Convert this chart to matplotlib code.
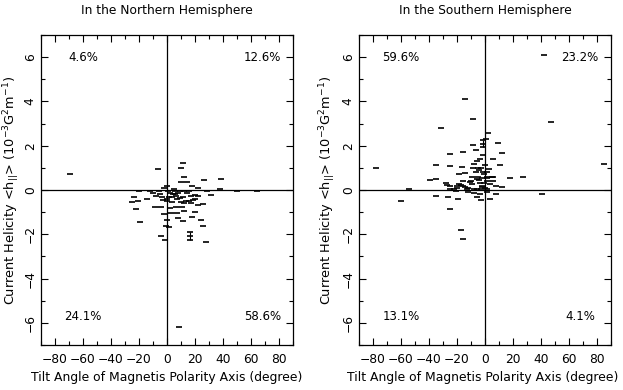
import matplotlib
matplotlib.use("Agg")
import matplotlib.pyplot as plt
from matplotlib.ticker import MultipleLocator

# ---- data (tilt angle in degree, current helicity in 1e-3 G^2 m^-1) ----
north_tilt = [-69, -6.2, -2.2, -0.2,
              11.3, 9.8, 9.8, 14.2, 26.6, 38.8, 17.7, 22, 37.6, 5, 12,
              -20, -12.2, -6, -5, -7.9, -3.8, -0.2, -23.7, -2.6, -25, -20.9,
              -22.3, -8.6, -4.5, -19.4, -4.1, -1.4, -0.5, -10, -14, -2,
              1, 5.8, 9.4, 12.2, 16, 28.5, 50, 64, 2.2, 5.8, 8.1, 31.4, 3.6,
              6.5, 11.7, 17, 19.9, 22.3, 0.2, 3.6, 7.4, 13.7, 15.6, 18.5, 20.1,
              12.2, 17, 21.8, 25.7, 6.7, 10.6, 12.2, 20.1, 2.9, 7, 7.9, 18,
              0.2, 11.3, 24.5, 1.2, 25.7, 27.6, 8.6, 4, 9, 14, 2, 1.5, 10]
north_hel = [0.71, 0.95, 0.09, 0.2,
             1.23, 1.0, 0.37, 0.35, 0.44, 0.5, 0.17, 0.1, 0.03, 0.05, 0.6,
             -0.06, -0.06, -0.06, -0.18, -0.27, -0.33, -0.39, -0.3, -0.45, -0.54,
             -0.51, -0.86, -0.78, -0.75, -1.43, -2.1, -2.28, -1.62, -0.15, -0.4,
             -1.1,
             -0.06, -0.06, -0.06, -0.06, -0.06, -0.06, -0.05, -0.05, -0.12,
             -0.18, -0.12, -0.21, -0.3, -0.27, -0.33, -0.27, -0.24, -0.27,
             -0.48, -0.54, -0.42, -0.51, -0.48, -0.45, -0.39, -0.57, -0.57,
             -0.69, -0.63, -0.75, -0.78, -0.96, -0.99, -1.02, -1.02, -1.25,
             -1.22, -1.35, -1.38, -1.37, -1.67, -1.64, -2.34, -6.17, -0.2,
             -0.35, -0.15, -0.8, -0.3, -0.55]
north_err_tilt = [16.3]
north_err_hel = [-2.09]
north_err_size = [0.17]

south_tilt = [-14.4, -8.3, -31.7, -8.3, -6.7, -15.5, -25, -3.6, -34.7, -25,
              -16.3, -7.9, -0.2, -77.9, -8.3, -5, -18.4, -14.6, -1.4, -39.5,
              -35.2, -5, -27.6, -24.7, -54.5,
              -24.7, -21.9, -19.9, -17.5, -15.5, -14.6, -7.9, -5.5, -3.1, -0.2,
              -3.6, -0.7, -5.5, -1.9, -6.7, -4.3, -27, -18.6,
              -10, -12, -9, -2, -1, -20, -11, -3, -6, -13, -2.5, -4, -9.5, -16,
              -1.5,
              42, 46.8, 2.4, 0.5, 9.4, 11.8, 6, 10.8, 2.9, 1.4, 1.7, 5.3, 18,
              26.9, 85, 1.7, 1.7, 5.5, 1.2, 5.5, 12.2, 7.5, 3.5,
              -60, -34.7, -26.6, -19.4, -24.7, -7.9, -3.6, -3.1, -17, -16, -12,
              -21, -6,
              3.6, 7.9, 40.8, 1.5]
south_hel = [4.12, 3.21, 2.79, 2.05, 1.82, 1.71, 1.64, 1.39, 1.15, 1.08,
             1.03, 1.18, 1.14, 0.97, 1.01, 0.97, 0.7, 0.77, 0.82, 0.45,
             0.5, 0.6, 0.33, 0.2, 0.05,
             0.06, 0.03, 0.18, 0.21, 0.18, 0.15, 0.03, 0.03, 0.06, 0.09,
             0.3, 0.33, 0.49, 0.55, 0.83, 0.88, 0.24, 0.27,
             0.4, 0.1, 0.6, 0.2, 0.7, 0.1, 0.35, 1.0, 1.3, 0.05, 0.15, 0.45,
             0.25, 0.4, 1.6,
             6.1, 3.06, 2.56, 2.3, 2.14, 1.68, 1.42, 1.14, 0.94, 0.79, 0.55,
             0.59, 0.56, 0.6, 1.17, 0.03, 0.42, 0.42, 0.6, 0.58, 0.12, 0.18,
             0.25,
             -0.49, -0.27, -0.33, -0.42, -0.85, -0.15, -0.2, -0.45, -1.82, -2.2,
             -0.1, -0.05, -0.3,
             -0.41, -0.2, -0.18, -0.1]
south_err_tilt = [-1.2]
south_err_hel = [2.09]
south_err_size = [0.15]

north_pct = ["4.6%", "12.6%", "24.1%", "58.6%"]
south_pct = ["59.6%", "23.2%", "13.1%", "4.1%"]
titles = ["In the Northern Hemisphere", "In the Southern Hemisphere"]
xlabel = "Tilt Angle of Magnetis Polarity Axis (degree)"
ylabel = r"Current Helicity <h$_{||}$> (10$^{-3}$G$^2$m$^{-1}$)"
xtick_vals = [-80, -60, -40, -20, 0, 20, 40, 60, 80]
xtick_labels = ['\u221280', '\u221260', '\u221240', '\u221220', '0',
                '20', '40', '60', '80']

plt.rcParams['font.family'] = ['DejaVu Sans']
plt.rcParams['font.size'] = 8.5

fig = plt.figure(figsize=(6.23, 3.90), dpi=100)
axL = fig.add_axes([0.0658, 0.1154, 0.4045, 0.795])
axR = fig.add_axes([0.5763, 0.1154, 0.4045, 0.795])

panels = [
    (axL, north_tilt, north_hel, north_err_tilt, north_err_hel, north_err_size,
     north_pct, titles[0], -0.117, 0.5),
    (axR, south_tilt, south_hel, south_err_tilt, south_err_hel, south_err_size,
     south_pct, titles[1], -0.125, 0.49),
]

pct_pos = [(-60, 6.0), (68, 6.0), (-60, -5.7), (68, -5.7)]

for ax, xs, ys, ex, ey, es, pct, title, ylab_x, xlab_x in panels:
    ax.set_xlim(-90, 90)
    ax.set_ylim(-7, 7)
    ax.axhline(0, color='black', lw=0.9, zorder=1)
    ax.axvline(0, color='black', lw=0.9, zorder=1)
    ax.plot(xs, ys, linestyle='none', marker='_', markersize=5,
            markeredgewidth=1.2, color='black', zorder=3)
    ax.errorbar(ex, ey, yerr=es, fmt='_', color='black', markersize=5,
                markeredgewidth=1.2, elinewidth=0.8, capsize=2, capthick=0.8,
                zorder=3)
    for (px, py), t in zip(pct_pos, pct):
        ax.text(px, py, t, ha='center', va='center', fontsize=8.5)
    ax.text(0.5, 1.08, title, transform=ax.transAxes, ha='center',
            va='center', fontsize=8.8)
    ax.set_xlabel(xlabel, fontsize=8.9)
    ax.xaxis.set_label_coords(xlab_x, -0.106)
    ax.xaxis.label.set_va('center')
    ax.set_ylabel(ylabel, fontsize=9.3)
    ax.yaxis.set_label_coords(ylab_x, 0.5)
    ax.yaxis.label.set_va('center')
    ax.xaxis.set_minor_locator(MultipleLocator(10))
    ax.yaxis.set_major_locator(MultipleLocator(2))
    ax.yaxis.set_minor_locator(MultipleLocator(1))
    ax.set_xticks(xtick_vals)
    ax.set_xticklabels(xtick_labels)
    ax.tick_params(which='both', direction='in', top=True, right=True,
                   labelsize=8.8)
    ax.tick_params(which='major', length=5, width=0.8)
    ax.tick_params(which='minor', length=3, width=0.8)
    ax.tick_params(axis='x', pad=6)
    ax.tick_params(axis='y', pad=3)
    for lab in ax.get_yticklabels():
        lab.set_rotation(90)
        lab.set_va('center')
    for sp in ax.spines.values():
        sp.set_linewidth(0.9)

fig.savefig("out.png", dpi=100)
